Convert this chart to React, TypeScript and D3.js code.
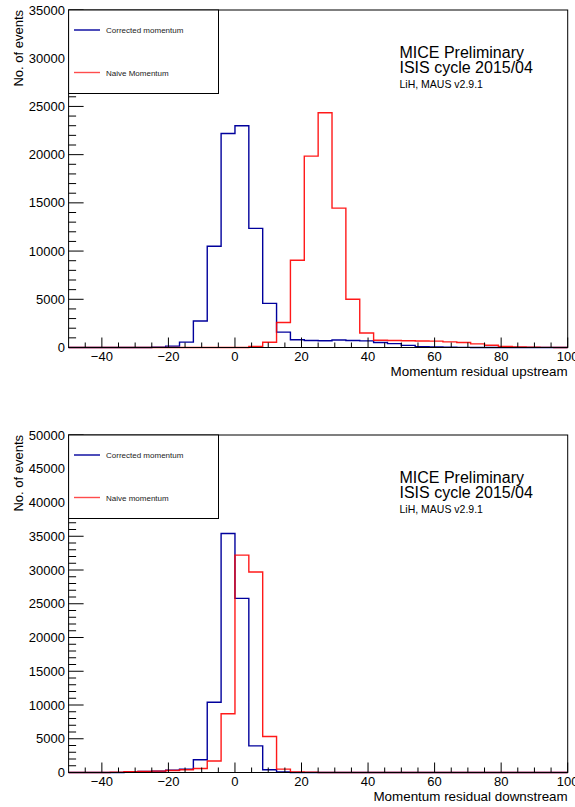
import React from "react";
import * as d3 from "d3";

// ---- data ----
const xMin = -50;
const xMax = 100;
const nBins = 36;

const upCorrected = [0, 0, 0, 0, 0, 0, 20, 140, 560, 2750, 10500, 22200, 23000, 12350, 4580, 1590, 800, 720, 700, 780, 720, 690, 520, 400, 220, 90, 60, 20, 10, 0, 0, 0, 0, 0, 0, 0];
const upNaive = [0, 0, 0, 0, 0, 0, 0, 0, 0, 0, 0, 0, 0, 100, 540, 2600, 9050, 19850, 24350, 14450, 5000, 1500, 750, 720, 700, 680, 660, 580, 520, 380, 230, 120, 50, 20, 10, 0];
const downCorrected = [0, 0, 0, 0, 100, 150, 200, 350, 500, 1880, 10400, 35400, 25800, 3950, 400, 100, 10, 0, 0, 0, 0, 0, 0, 0, 0, 0, 0, 0, 0, 0, 0, 0, 0, 0, 0, 0];
const downNaive = [0, 0, 0, 50, 120, 150, 200, 300, 400, 600, 1700, 8700, 32200, 29700, 5330, 500, 100, 30, 0, 0, 0, 0, 0, 0, 0, 0, 0, 0, 0, 0, 0, 0, 0, 0, 0, 0];

const xMajorTicks = [-40, -20, 0, 20, 40, 60, 80, 100];
const upYMajor = [0, 5000, 10000, 15000, 20000, 25000, 30000, 35000];
const downYMajor = [0, 5000, 10000, 15000, 20000, 25000, 30000, 35000, 40000, 45000, 50000];

const upLegend = ["Corrected momentum", "Naive Momentum"];
const downLegend = ["Corrected momentum", "Naive momentum"];
const infoLines = ["MICE Preliminary", "ISIS cycle 2015/04", "LiH, MAUS v2.9.1"];

const BLUE = "#00009c";
const RED = "#ff0000";
const FONT = "'Liberation Sans', Arial, Helvetica, sans-serif";

const LEFT = 68.6;
const RIGHT = 567.7;

function histPath(values: number[], x: d3.ScaleLinear<number, number>, y: d3.ScaleLinear<number, number>) {
  const w = (xMax - xMin) / nBins;
  const pts: [number, number][] = [[xMin, 0]];
  values.forEach((v, i) => {
    pts.push([xMin + i * w, v]);
  });
  pts.push([xMax, values[values.length - 1]]);
  pts.push([xMax, 0]);
  const line = d3
    .line<[number, number]>()
    .x((d) => x(d[0]))
    .y((d) => y(d[1]))
    .curve(d3.curveStepAfter);
  return line(pts) || "";
}

function fmtX(v: number) {
  return v < 0 ? "\u2212" + Math.abs(v) : String(v);
}

function Panel(props: {
  top: number;
  bottom: number;
  yMax: number;
  yMajor: number[];
  corrected: number[];
  naive: number[];
  xTitle: string;
  legend: string[];
}) {
  const { top, bottom, yMax, yMajor, corrected, naive, xTitle, legend } = props;
  const x = d3.scaleLinear().domain([xMin, xMax]).range([LEFT, RIGHT]);
  const y = d3.scaleLinear().domain([0, yMax]).range([bottom, top]);
  const xMinor = d3.range(-45, 100.1, 5).filter((v) => v % 20 !== 0);
  const yMinor = d3.range(0, yMax + 1, 1000).filter((v) => v % 5000 !== 0);
  const legendH = 83.5;
  return (
    <g>
      {/* histograms */}
      <path d={histPath(corrected, x, y)} fill="none" stroke={BLUE} strokeWidth={1.4} />
      <path d={histPath(naive, x, y)} fill="none" stroke={RED} strokeWidth={1.4} strokeOpacity={0.9} />
      {/* frame */}
      <rect x={LEFT} y={top} width={RIGHT - LEFT} height={bottom - top} fill="none" stroke="#000" strokeWidth={1} />
      {/* x ticks */}
      {xMajorTicks.map((v) => (
        <line key={"xM" + v} x1={x(v)} x2={x(v)} y1={bottom} y2={bottom - 10} stroke="#000" strokeWidth={1} />
      ))}
      {xMinor.map((v) => (
        <line key={"xm" + v} x1={x(v)} x2={x(v)} y1={bottom} y2={bottom - 5} stroke="#000" strokeWidth={1} />
      ))}
      {xMajorTicks.map((v) => (
        <text key={"xl" + v} x={x(v)} y={bottom + 13.5} fontSize={13} fontFamily={FONT} textAnchor="middle" fill="#000">
          {fmtX(v)}
        </text>
      ))}
      <text x={RIGHT} y={bottom + 28.5} fontSize={13.4} fontFamily={FONT} textAnchor="end" fill="#000">
        {xTitle}
      </text>
      {/* y ticks */}
      {yMajor.map((v) => (
        <line key={"yM" + v} x1={LEFT} x2={LEFT + 15} y1={y(v)} y2={y(v)} stroke="#000" strokeWidth={1} />
      ))}
      {yMinor.map((v) => (
        <line key={"ym" + v} x1={LEFT} x2={LEFT + 7.5} y1={y(v)} y2={y(v)} stroke="#000" strokeWidth={1} />
      ))}
      {yMajor.map((v) => (
        <text key={"yl" + v} x={65} y={y(v) + 4.6} fontSize={13} fontFamily={FONT} textAnchor="end" fill="#000">
          {v}
        </text>
      ))}
      <text transform={`translate(23,${top}) rotate(-90)`} fontSize={13} fontFamily={FONT} textAnchor="end" fill="#000">
        No. of events
      </text>
      {/* legend */}
      <rect x={LEFT} y={top} width={218.5 - LEFT} height={legendH} fill="#fff" stroke="#000" strokeWidth={1} />
      <line x1={74} x2={100} y1={top + 20} y2={top + 20} stroke={BLUE} strokeWidth={1.4} />
      <text x={106} y={top + 23} fontSize={8} fontFamily={FONT} fill="#222">
        {legend[0]}
      </text>
      <line x1={74} x2={100} y1={top + 62.5} y2={top + 62.5} stroke={RED} strokeWidth={1.4} strokeOpacity={0.7} />
      <text x={106} y={top + 65.5} fontSize={8} fontFamily={FONT} fill="#222">
        {legend[1]}
      </text>
      {/* info text */}
      <text x={399.5} y={top + 47.5} fontSize={16} fontFamily={FONT} fill="#000">
        {infoLines[0]}
      </text>
      <text x={399.5} y={top + 63} fontSize={16} fontFamily={FONT} fill="#000">
        {infoLines[1]}
      </text>
      <text x={399.5} y={top + 77.5} fontSize={10.5} fontFamily={FONT} fill="#000">
        {infoLines[2]}
      </text>
    </g>
  );
}

export default function App() {
  return (
    <svg
      width={575}
      height={807}
      style={{ position: "absolute", left: 0, top: 0, background: "#fff" }}
    >
      <rect x={0} y={0} width={575} height={807} fill="#fff" />
      <Panel
        top={10}
        bottom={347.5}
        yMax={35000}
        yMajor={upYMajor}
        corrected={upCorrected}
        naive={upNaive}
        xTitle="Momentum residual upstream"
        legend={upLegend}
      />
      <Panel
        top={435}
        bottom={772.5}
        yMax={50000}
        yMajor={downYMajor}
        corrected={downCorrected}
        naive={downNaive}
        xTitle="Momentum residual downstream"
        legend={downLegend}
      />
    </svg>
  );
}
